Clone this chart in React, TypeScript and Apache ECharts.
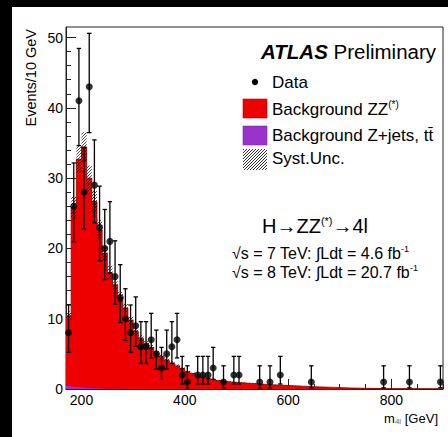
import React, { useEffect, useRef } from 'react';
import * as echarts from 'echarts';

const FONT = '"Liberation Sans", Arial, Helvetica, sans-serif';

// 10 GeV bins from 170 to 900 GeV (bin edges)
const massEdges: number[] = Array.from({ length: 74 }, (_, i) => 170 + 10 * i);

// Background ZZ(*) per bin (events / 10 GeV)
const zzBackground = [
  10.0, 25.5, 32.5, 34.3, 29.9, 26.6, 22.6, 19.3, 16.5, 14.8,
  13.0, 11.5, 9.8, 8.2, 7.2, 6.5, 5.9, 5.1, 4.6, 4.1,
  3.7, 3.3, 2.9, 2.5, 2.2, 1.9, 1.7, 1.5, 1.35, 1.2,
  1.1, 1.0, 0.95, 0.9, 0.85, 0.8, 0.75, 0.7, 0.65, 0.6,
  0.57, 0.54, 0.5, 0.46, 0.43, 0.4, 0.36, 0.33, 0.3, 0.27,
  0.25, 0.23, 0.2, 0.18, 0.15, 0.13, 0.12, 0.1, 0.09, 0.08,
  0.07, 0.06, 0.05, 0.05, 0.04, 0.04, 0.03, 0.03, 0.03, 0.02,
  0.02, 0.02, 0.02,
];

// Background Z+jets, ttbar per bin
const zjetsBackground = [
  0.42, 0.3, 0.2, 0.14, 0.1, 0.07, 0.05, 0.04, 0.03, 0.02,
  0.02, 0.01, 0.01, 0.01, 0, 0, 0, 0, 0, 0,
  0, 0, 0, 0, 0, 0, 0, 0, 0, 0,
  0, 0, 0, 0, 0, 0, 0, 0, 0, 0,
  0, 0, 0, 0, 0, 0, 0, 0, 0, 0,
  0, 0, 0, 0, 0, 0, 0, 0, 0, 0,
  0, 0, 0, 0, 0, 0, 0, 0, 0, 0,
  0, 0, 0,
];

// relative systematic uncertainty of the background
const systRelUnc = 0.06;

// Data
const dataMass = [175, 185, 195, 205, 215, 225, 235, 245, 255, 265, 275, 285, 295, 305, 315, 325, 335, 345, 355, 365, 375, 385, 395, 405, 425, 435, 445, 455, 475, 495, 505, 545, 565, 585, 645, 785, 835, 895];
const dataEvents = [8, 26, 41, 28, 43, 29, 23, 20, 21, 16, 13, 10, 8, 9, 6, 6, 7, 5, 3, 5, 6, 7, 2, 1, 2, 2, 2, 3, 1, 2, 2, 1, 1, 2, 1, 1, 1, 1];
const dataErrLow = [5.23, 20.94, 34.63, 22.74, 36.47, 23.65, 18.24, 15.57, 16.46, 12.05, 9.45, 6.9, 5.23, 6.06, 3.63, 3.63, 4.42, 2.84, 1.37, 2.84, 3.63, 4.42, 0.71, 0.17, 0.71, 0.71, 0.71, 1.37, 0.17, 0.71, 0.71, 0.17, 0.17, 0.71, 0.17, 0.17, 0.17, 0.17];
const dataErrHigh = [11.95, 32.16, 48.45, 34.35, 50.6, 35.44, 28.86, 25.54, 26.65, 21.08, 17.69, 14.26, 11.95, 13.1, 9.58, 9.58, 10.76, 8.38, 5.92, 8.38, 9.58, 10.76, 4.64, 3.3, 4.64, 4.64, 4.64, 5.92, 3.3, 4.64, 4.64, 3.3, 3.3, 4.64, 3.3, 3.3, 3.3, 3.3];

// Axis ticks
const xMajorTicks = [200, 400, 600, 800];
const xMinorTicks = [200, 250, 300, 350, 400, 450, 500, 550, 600, 650, 700, 750, 800, 850, 900];
const yMajorTicks = [0, 10, 20, 30, 40, 50];
const yMinorTicks = [0, 2, 4, 6, 8, 10, 12, 14, 16, 18, 20, 22, 24, 26, 28, 30, 32, 34, 36, 38, 40, 42, 44, 46, 48, 50];

const X_MIN = 170;
const X_MAX = 900;
const Y_MAX = 51.5;

function hatchLines(left: number, top: number, right: number, bottom: number, step: number, width: number) {
  const out: any[] = [];
  const cMin = left + top;
  const cMax = right + bottom;
  for (let c = Math.ceil(cMin / step) * step; c <= cMax; c += step) {
    const xa = Math.max(left, c - bottom);
    const xb = Math.min(right, c - top);
    if (xb > xa + 0.2) {
      out.push({
        type: 'line',
        shape: { x1: xa, y1: c - xa, x2: xb, y2: c - xb },
        style: { stroke: '#000', lineWidth: width },
        silent: true,
      });
    }
  }
  return out;
}

export default function App() {
  const ref = useRef<HTMLDivElement>(null);

  useEffect(() => {
    document.body.style.margin = '0';
    const chart = echarts.init(ref.current!, null, { renderer: 'svg' });
    const n = zzBackground.length;
    const totalLine = massEdges.map((e, i) => {
      const k = Math.min(i, n - 1);
      return [e, zzBackground[k] + zjetsBackground[k]];
    });
    const zjLine = massEdges.map((e, i) => {
      const k = Math.min(i, n - 1);
      return [e, zjetsBackground[k]];
    });
    const bandData = zzBackground.map((v, i) => {
      const t = v + zjetsBackground[i];
      return [massEdges[i], massEdges[i + 1], t * (1 - systRelUnc), t * (1 + systRelUnc)];
    });
    const errData = dataMass.map((m, i) => [m, dataErrLow[i], dataErrHigh[i]]);
    const pointData = dataMass.map((m, i) => [m, dataEvents[i]]);

    const axisColor = '#222';

    const legendX = 243;
    const textX = 272;
    const legendFont = 17;

    const option: any = {
      animation: false,
      backgroundColor: '#fff',
      grid: { left: 66, right: 5, top: 27, bottom: 48, show: true, borderColor: axisColor, borderWidth: 1, backgroundColor: 'transparent' },
      xAxis: [
        {
          type: 'value', min: X_MIN, max: X_MAX, position: 'bottom',
          axisLine: { show: true, onZero: false, lineStyle: { color: axisColor, width: 1 } },
          axisTick: { show: true, inside: true, length: 10, customValues: xMajorTicks, lineStyle: { color: axisColor } },
          axisLabel: { customValues: xMajorTicks, fontSize: 14, color: '#000', fontFamily: FONT, margin: 4 },
          splitLine: { show: false },
        },
        {
          type: 'value', min: X_MIN, max: X_MAX, position: 'bottom',
          axisLine: { show: false, onZero: false },
          axisTick: { show: true, inside: true, length: 5, customValues: xMinorTicks, lineStyle: { color: axisColor } },
          axisLabel: { show: false },
          splitLine: { show: false },
        },
      ],
      yAxis: [
        {
          type: 'value', min: 0, max: Y_MAX, position: 'left',
          axisLine: { show: true, onZero: false, lineStyle: { color: axisColor, width: 1 } },
          axisTick: { show: true, inside: true, length: 10, customValues: yMajorTicks, lineStyle: { color: axisColor } },
          axisLabel: { customValues: yMajorTicks, fontSize: 14, color: '#000', fontFamily: FONT, margin: 3 },
          splitLine: { show: false },
        },
        {
          type: 'value', min: 0, max: Y_MAX, position: 'left',
          axisLine: { show: false, onZero: false },
          axisTick: { show: true, inside: true, length: 5, customValues: yMinorTicks, lineStyle: { color: axisColor } },
          axisLabel: { show: false },
          splitLine: { show: false },
        },
      ],
      series: [
        {
          name: 'Background ZZ(*)', type: 'line', step: 'end', data: totalLine, symbol: 'none',
          lineStyle: { color: '#8a0000', width: 0.8 },
          areaStyle: { color: '#ee0000', opacity: 1 },
          z: 2, silent: true,
        },
        {
          name: 'Background Z+jets, tt', type: 'line', step: 'end', data: zjLine, symbol: 'none',
          lineStyle: { width: 0, opacity: 0 },
          areaStyle: { color: '#9933cc', opacity: 1 },
          z: 3, silent: true,
        },
        {
          name: 'Syst.Unc.', type: 'custom', data: bandData, encode: { x: [0, 1], y: [2, 3] }, z: 4, silent: true,
          renderItem: (params: any, api: any) => {
            const pA = api.coord([api.value(0), api.value(3)]);
            const pB = api.coord([api.value(1), api.value(2)]);
            return { type: 'group', children: hatchLines(pA[0], pA[1], pB[0], pB[1], 3, 0.7) };
          },
        },
        {
          name: 'Data errors', type: 'custom', data: errData, encode: { x: [0], y: [1, 2] }, z: 5, silent: true,
          renderItem: (params: any, api: any) => {
            const lo = api.coord([api.value(0), api.value(1)]);
            const hi = api.coord([api.value(0), api.value(2)]);
            const st = { stroke: '#000', lineWidth: 1.3 };
            return {
              type: 'group',
              children: [
                { type: 'line', shape: { x1: lo[0], y1: lo[1], x2: hi[0], y2: hi[1] }, style: st },
                { type: 'line', shape: { x1: hi[0] - 2.2, y1: hi[1], x2: hi[0] + 2.2, y2: hi[1] }, style: st },
                { type: 'line', shape: { x1: lo[0] - 2.2, y1: lo[1], x2: lo[0] + 2.2, y2: lo[1] }, style: st },
              ],
            };
          },
        },
        {
          name: 'Data', type: 'scatter', data: pointData, symbol: 'circle', symbolSize: 7,
          itemStyle: { color: '#000' }, z: 6, silent: true,
        },
      ],
      graphic: [
        // page frame (black borders)
        { type: 'rect', shape: { x: 0, y: 0, width: 448, height: 7 }, style: { fill: '#000' }, z: 100 },
        { type: 'rect', shape: { x: 0, y: 0, width: 12, height: 437 }, style: { fill: '#000' }, z: 100 },
        // y axis title
        {
          type: 'text', x: 31, y: 29, rotation: Math.PI / 2, z: 50,
          style: { text: 'Events/10 GeV', fontSize: 14.5, fontFamily: FONT, fill: '#000', align: 'right', verticalAlign: 'middle' },
        },
        // x axis title
        {
          type: 'text', x: 438, y: 418, z: 50,
          style: {
            text: 'm{sub|4l} [GeV]', fontSize: 13, fontFamily: FONT, fill: '#000', align: 'right', verticalAlign: 'middle', lineHeight: 14,
            rich: { sub: { fontSize: 8, fontFamily: FONT, fill: '#666', verticalAlign: 'bottom', lineHeight: 8 } },
          },
        },
        // ATLAS Preliminary
        {
          type: 'text', x: 261, y: 51, z: 50,
          style: {
            text: '{b|ATLAS} Preliminary', fontSize: 20.5, fontFamily: FONT, fill: '#000', align: 'left', verticalAlign: 'middle',
            rich: { b: { fontSize: 20.5, fontFamily: FONT, fontWeight: 'bold', fontStyle: 'italic', fill: '#000' } },
          },
        },
        // Legend: Data
        { type: 'circle', shape: { cx: 255, cy: 82, r: 3.2 }, style: { fill: '#000' }, z: 50 },
        { type: 'text', x: textX, y: 82, z: 50, style: { text: 'Data', fontSize: legendFont, fontFamily: FONT, fill: '#000', align: 'left', verticalAlign: 'middle' } },
        // Legend: ZZ
        { type: 'rect', shape: { x: legendX, y: 99, width: 24, height: 19 }, style: { fill: '#ee0000', stroke: '#c00000', lineWidth: 0.6 }, z: 50 },
        {
          type: 'text', x: textX, y: 109, z: 50,
          style: {
            text: 'Background ZZ{sup|(*)}', fontSize: legendFont, fontFamily: FONT, fill: '#000', align: 'left', verticalAlign: 'middle', lineHeight: 19,
            rich: { sup: { fontSize: 10, fontFamily: FONT, fill: '#000', verticalAlign: 'top', lineHeight: 10 } },
          },
        },
        // Legend: Z+jets
        { type: 'rect', shape: { x: legendX, y: 126, width: 24, height: 19 }, style: { fill: '#9933cc', stroke: '#7a2aa8', lineWidth: 0.6 }, z: 50 },
        { type: 'text', x: textX, y: 135, z: 50, style: { text: 'Background Z+jets, tt\u0304', fontSize: legendFont, fontFamily: FONT, fill: '#000', align: 'left', verticalAlign: 'middle' } },
        // Legend: Syst
        { type: 'group', z: 50, children: hatchLines(legendX, 149, legendX + 24, 170, 3, 0.8) },
        { type: 'text', x: textX, y: 158, z: 50, style: { text: 'Syst.Unc.', fontSize: legendFont, fontFamily: FONT, fill: '#000', align: 'left', verticalAlign: 'middle' } },
        // H -> ZZ -> 4l
        {
          type: 'text', x: 262, y: 226, z: 50,
          style: {
            text: 'H\u2192ZZ{sup|(*)}\u21924l', fontSize: 20, fontFamily: FONT, fill: '#000', align: 'left', verticalAlign: 'middle', lineHeight: 22,
            rich: { sup: { fontSize: 11, fontFamily: FONT, fill: '#000', verticalAlign: 'top', lineHeight: 11 } },
          },
        },
        {
          type: 'text', x: 232, y: 253, z: 50,
          style: {
            text: '\u221As = 7 TeV: \u222BLdt = 4.6 fb{sup|-1}', fontSize: 16, fontFamily: FONT, fill: '#000', align: 'left', verticalAlign: 'middle', lineHeight: 18,
            rich: { sup: { fontSize: 9, fontFamily: FONT, fill: '#000', verticalAlign: 'top', lineHeight: 9 } },
          },
        },
        {
          type: 'text', x: 232, y: 272, z: 50,
          style: {
            text: '\u221As = 8 TeV: \u222BLdt = 20.7 fb{sup|-1}', fontSize: 16, fontFamily: FONT, fill: '#000', align: 'left', verticalAlign: 'middle', lineHeight: 18,
            rich: { sup: { fontSize: 9, fontFamily: FONT, fill: '#000', verticalAlign: 'top', lineHeight: 9 } },
          },
        },
      ],
    };

    chart.setOption(option);
    return () => chart.dispose();
  }, []);

  return <div ref={ref} style={{ width: 448, height: 437, background: '#fff' }} />;
}
